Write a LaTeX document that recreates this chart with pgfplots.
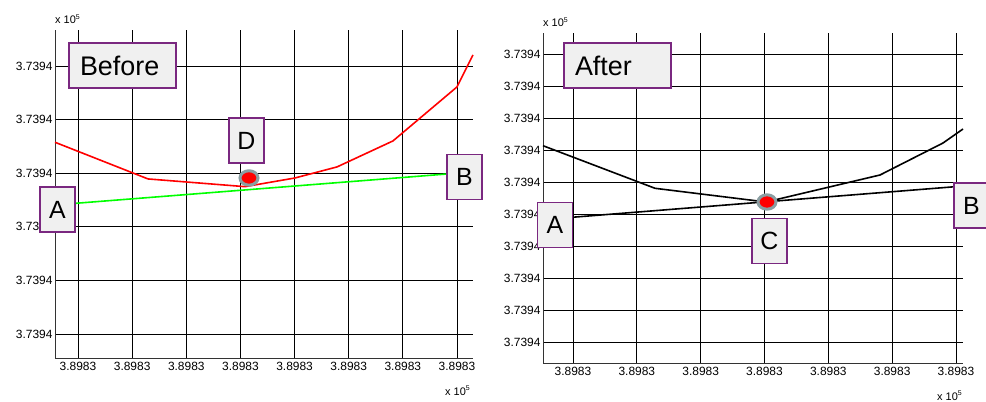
\documentclass[border=0pt]{standalone}
\usepackage{pgfplots}
\pgfplotsset{compat=1.18}
\usepackage{fontspec}
\setmainfont{Liberation Sans}

\definecolor{boxpurple}{RGB}{122,40,128}
\definecolor{boxfill}{RGB}{240,240,240}
\definecolor{ringgray}{RGB}{138,158,162}

\pgfplotsset{
  panel/.style={
    scale only axis,
    axis lines*=left,
    axis line style={black!80, line width=1bp},
    grid=major,
    major grid style={black, line width=0.75bp},
    tick style={black, line width=0.75bp},
    major tick length=3bp,
    tick align=inside,
    ticklabel style={font=\fontsize{12}{13}\selectfont},
    xticklabel style={yshift=-1bp},
    yticklabel style={xshift=1bp},
    clip=false,
  },
  pt/.style={only marks, mark=*, mark size=9bp,
    mark options={yscale=0.8, fill=red, draw=ringgray, line width=3bp}},
}
\tikzset{
  lbl/.style={draw=boxpurple, fill=boxfill, line width=1.2bp,
    minimum width=35bp, minimum height=45bp, inner sep=0pt,
    font=\fontsize{25}{25}\selectfont},
  ttl/.style={lbl, minimum width=107bp, text width=85bp, align=left,
    font=\fontsize{27}{27}\selectfont},
  expo/.style={inner sep=0pt, font=\fontsize{11}{11}\selectfont},
}
\newcommand{\xten}{x 10\raisebox{0.7ex}{\fontsize{7}{7}\selectfont 5}}

\begin{document}
\begin{tikzpicture}[x=1bp,y=1bp]
\useasboundingbox (0,0) rectangle (986,401);

% ---------------- Before ----------------
\begin{axis}[panel, at={(55bp,43bp)}, anchor=south west,
  width=418bp, height=328bp,
  xmin=-0.425, xmax=7.296, ymin=-0.448, ymax=5.67,
  xtick={0,...,7},
  xticklabels={3.8983,3.8983,3.8983,3.8983,3.8983,3.8983,3.8983,3.8983},
  ytick={0,...,5},
  yticklabels={3.7394,3.7394,3.7394,3.7394,3.7394,3.7394}]
\addplot[red, line width=1.6bp] coordinates {
  (-0.425,3.576) (1.293,2.892) (3.085,2.748) (4.008,2.910)
  (4.784,3.116) (5.818,3.601) (7.000,4.608) (7.296,5.205)};
\addplot[green, line width=1.6bp] coordinates {(-0.425,2.407) (7.000,2.999)};
\addplot[pt] coordinates {(3.158,2.910)};
\node[expo, anchor=base west] at ([yshift=6bp]rel axis cs:0,1) {\xten};
\node[expo, anchor=base east] at ([xshift=-3bp,yshift=-37bp]rel axis cs:1,0) {\xten};
\coordinate (Lbefore) at (axis cs:0.822,5.009);
\coordinate (LA) at (axis cs:-0.379,2.323);
\coordinate (LB) at (axis cs:7.139,2.929);
\coordinate (LD) at (axis cs:3.112,3.610);
\end{axis}
\node[ttl] at (Lbefore) {Before};
\node[lbl] at (LA) {A};
\node[lbl] at (LB) {B};
\node[lbl] at (LD) {D};

% ---------------- After ----------------
\begin{axis}[panel, at={(543bp,38bp)}, anchor=south west,
  width=420bp, height=330bp,
  xmin=-0.470, xmax=6.110, ymin=-0.656, ymax=9.656,
  xtick={0,...,6},
  xticklabels={3.8983,3.8983,3.8983,3.8983,3.8983,3.8983,3.8983},
  ytick={0,...,9},
  yticklabels={3.7394,3.7394,3.7394,3.7394,3.7394,3.7394,3.7394,3.7394,3.7394,3.7394}]
\addplot[black, line width=1.6bp] coordinates {
  (-0.470,6.134) (1.285,4.803) (3.024,4.375) (4.810,5.219)
  (5.797,6.219) (6.110,6.656)};
\addplot[black, line width=1.6bp] coordinates {(-0.016,3.897) (5.985,4.853)};
\addplot[pt] coordinates {(3.039,4.375)};
\node[expo, anchor=base west] at ([yshift=6bp]rel axis cs:0,1) {\xten};
\node[expo, anchor=base east] at ([xshift=-1bp,yshift=-37bp]rel axis cs:1,0) {\xten};
\coordinate (Rafter) at (axis cs:0.697,8.641);
\coordinate (RA) at (axis cs:-0.282,3.656);
\coordinate (RB) at (axis cs:6.243,4.266);
\coordinate (RC) at (axis cs:3.078,3.156);
\end{axis}
\node[ttl] at (Rafter) {After};
\node[lbl] at (RA) {A};
\node[lbl] at (RB) {B};
\node[lbl] at (RC) {C};
\end{tikzpicture}
\end{document}
